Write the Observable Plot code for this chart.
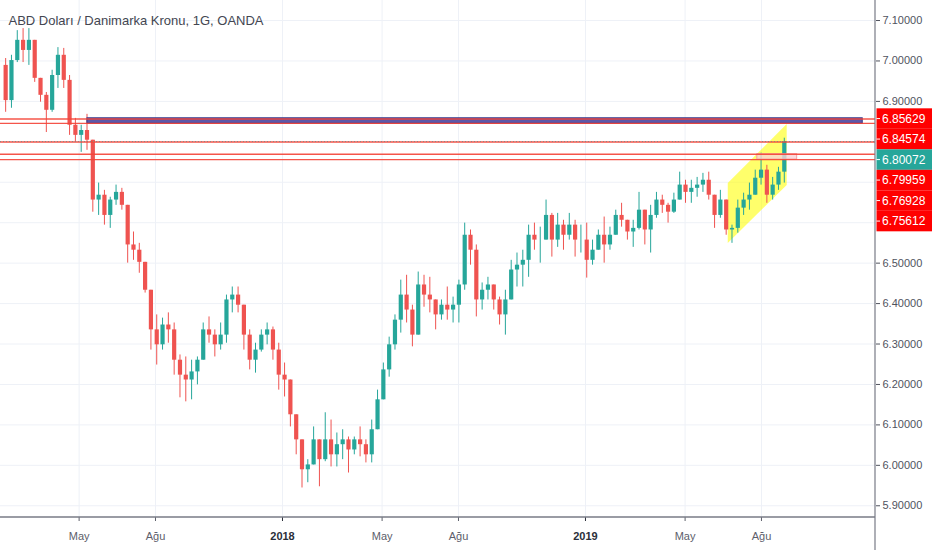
<!DOCTYPE html>
<html><head><meta charset="utf-8">
<script src="https://cdn.jsdelivr.net/npm/d3@7"></script>
<script src="https://cdn.jsdelivr.net/npm/@observablehq/plot@0.6"></script>
<style>body{margin:0;background:#fff;}</style>
</head><body><div id="chart"></div>
<script>
const titleText = "ABD Doları / Danimarka Kronu, 1G, OANDA";
const firstWeek = "2017-01-30";
const opens = [6.989,6.902,7.001,7.051,7.026,7.051,6.957,6.915,6.878,6.964,7.014,6.952,6.841,6.816,6.828,6.804,6.656,6.668,6.618,6.656,6.675,6.643,6.545,6.532,6.502,6.433,6.335,6.298,6.347,6.335,6.260,6.223,6.211,6.231,6.260,6.335,6.322,6.298,6.322,6.409,6.421,6.396,6.322,6.260,6.285,6.322,6.335,6.285,6.223,6.211,6.125,6.063,5.989,6.001,6.063,6.014,6.063,6.026,6.051,6.063,6.038,6.063,6.051,6.026,6.088,6.162,6.236,6.298,6.359,6.421,6.384,6.322,6.446,6.421,6.409,6.372,6.396,6.384,6.396,6.446,6.569,6.532,6.409,6.433,6.446,6.409,6.372,6.409,6.483,6.495,6.507,6.569,6.557,6.557,6.618,6.557,6.594,6.569,6.594,6.557,6.557,6.507,6.532,6.569,6.545,6.569,6.618,6.606,6.577,6.586,6.631,6.582,6.618,6.656,6.643,6.626,6.656,6.693,6.675,6.685,6.693,6.705,6.668,6.618,6.656,6.582,6.586,6.636,6.656,6.668,6.710,6.730,6.668,6.693,6.725];
const highs = [7.006,7.014,7.075,7.080,7.080,7.051,6.957,6.922,6.977,7.033,7.031,6.964,6.858,6.841,6.868,6.804,6.698,6.680,6.663,6.693,6.685,6.643,6.577,6.549,6.502,6.433,6.372,6.364,6.377,6.352,6.273,6.268,6.260,6.268,6.352,6.367,6.335,6.352,6.421,6.441,6.441,6.396,6.335,6.302,6.335,6.352,6.342,6.302,6.253,6.211,6.125,6.063,6.014,6.095,6.063,6.130,6.112,6.080,6.088,6.070,6.070,6.095,6.063,6.112,6.186,6.253,6.317,6.372,6.458,6.470,6.396,6.478,6.470,6.465,6.409,6.409,6.441,6.416,6.458,6.599,6.582,6.545,6.451,6.465,6.446,6.416,6.433,6.507,6.525,6.532,6.594,6.599,6.589,6.656,6.623,6.623,6.606,6.623,6.606,6.594,6.599,6.557,6.582,6.614,6.589,6.631,6.648,6.606,6.606,6.675,6.631,6.643,6.675,6.668,6.648,6.673,6.725,6.705,6.705,6.712,6.722,6.725,6.668,6.680,6.656,6.594,6.656,6.673,6.698,6.730,6.772,6.742,6.712,6.737,6.809];
const lows = [6.873,6.883,6.996,6.996,6.989,6.947,6.898,6.823,6.873,6.932,6.932,6.816,6.799,6.774,6.779,6.626,6.618,6.594,6.586,6.643,6.631,6.500,6.507,6.475,6.426,6.285,6.248,6.285,6.302,6.223,6.167,6.157,6.162,6.199,6.260,6.302,6.268,6.285,6.302,6.377,6.377,6.285,6.236,6.228,6.280,6.298,6.260,6.186,6.169,6.095,6.026,5.944,5.957,6.001,5.947,6.009,5.996,5.996,6.014,5.981,6.026,6.021,6.006,6.006,6.088,6.162,6.218,6.285,6.327,6.352,6.293,6.322,6.391,6.377,6.335,6.359,6.359,6.352,6.352,6.433,6.495,6.367,6.384,6.409,6.384,6.347,6.322,6.409,6.441,6.441,6.465,6.532,6.500,6.557,6.515,6.539,6.532,6.557,6.515,6.525,6.463,6.495,6.532,6.500,6.532,6.569,6.589,6.557,6.539,6.582,6.545,6.525,6.611,6.623,6.599,6.623,6.656,6.648,6.648,6.663,6.675,6.656,6.586,6.611,6.569,6.549,6.574,6.618,6.631,6.668,6.693,6.648,6.656,6.680,6.698];
const closes = [6.902,7.001,7.051,7.026,7.051,6.957,6.915,6.878,6.964,7.014,6.952,6.841,6.816,6.828,6.804,6.656,6.668,6.618,6.656,6.675,6.643,6.545,6.532,6.502,6.433,6.335,6.298,6.347,6.335,6.260,6.223,6.211,6.231,6.260,6.335,6.322,6.298,6.322,6.409,6.421,6.396,6.322,6.260,6.285,6.322,6.335,6.285,6.223,6.211,6.125,6.063,5.989,6.001,6.063,6.014,6.063,6.026,6.051,6.063,6.038,6.063,6.051,6.026,6.088,6.162,6.236,6.298,6.359,6.421,6.384,6.322,6.446,6.421,6.409,6.372,6.396,6.384,6.396,6.446,6.569,6.532,6.409,6.433,6.446,6.409,6.372,6.409,6.483,6.495,6.507,6.569,6.557,6.557,6.618,6.557,6.594,6.569,6.594,6.557,6.557,6.507,6.532,6.569,6.545,6.569,6.618,6.606,6.577,6.586,6.631,6.582,6.618,6.656,6.643,6.626,6.656,6.693,6.675,6.685,6.693,6.705,6.668,6.618,6.656,6.582,6.586,6.636,6.656,6.668,6.710,6.730,6.668,6.693,6.725,6.80072];

// axis ticks
const monthTicks = ["2017-05-01","2017-08-01","2018-05-01","2018-08-01","2019-05-01","2019-08-01"];
const monthLabels = ["May","Ağu","May","Ağu","May","Ağu"];
const yearTicks = ["2018-01-01","2019-01-01"];
const yearLabels = ["2018","2019"];
const priceGrid = [5.9,6.0,6.1,6.2,6.3,6.4,6.5,6.6,6.7,6.8,6.9,7.0,7.1];
const priceLabelTicks = [5.9,6.0,6.1,6.2,6.3,6.4,6.5,6.9,7.0,7.1];

// drawings
const hLines = [6.85629, 6.84574, 6.79959, 6.76928, 6.75612];
const lastPrice = 6.80072;
const tagPrices = [6.85629, 6.84574, 6.80072, 6.79959, 6.76928, 6.75612];
const tagKinds = ["line","line","last","line","line","line"];
const bandDates = ["2017-05-11","2019-12-01"];
const bandPrices = [6.8446, 6.8582];
const channelDates = ["2019-06-22","2019-09-01"];
const channelLower = [6.5486, 6.6920];
const channelUpper = [6.6970, 6.8429];
const boxDates = ["2019-07-27","2019-09-13"];
const boxPrices = [6.75612, 6.76928];

const UP = "#26a69a", DOWN = "#ef5350";
const start = new Date(firstWeek + "T00:00:00Z");
const candles = closes.map((c, i) => ({
  date: d3.utcHour.offset(d3.utcMonday.offset(start, i), 60),
  open: opens[i], high: highs[i], low: lows[i], close: c,
  color: c >= opens[i] ? UP : DOWN
}));
const P = d => new Date(d + "T00:00:00Z");
const monthMap = new Map(monthTicks.map((d, i) => [+P(d), monthLabels[i]]));
const yearMap = new Map(yearTicks.map((d, i) => [+P(d), yearLabels[i]]));

function chrome(index, scales, values, dim) {
  const g = d3.create("svg:g");
  const x0 = dim.width - dim.marginRight;
  const yb = dim.height - dim.marginBottom;
  g.append("line").attr("x1", 0).attr("x2", x0).attr("y1", yb).attr("y2", yb)
    .attr("stroke", "#787b86").attr("stroke-width", 1.5);
  g.append("line").attr("x1", x0).attr("x2", x0).attr("y1", 0).attr("y2", dim.height)
    .attr("stroke", "#787b86").attr("stroke-width", 1.2);
  const h = 20.5;
  let prev = -Infinity;
  tagPrices.forEach((v, i) => {
    const cy = Math.max(scales.y(v), prev + h);
    prev = cy;
    g.append("rect").attr("x", x0 + 1.5).attr("y", cy - h / 2).attr("width", dim.marginRight).attr("height", h)
      .attr("fill", tagKinds[i] === "last" ? UP : "#ff0000");
    g.append("line").attr("x1", x0 + 1.5).attr("x2", x0 + 5).attr("y1", cy).attr("y2", cy)
      .attr("stroke", "#fff");
    g.append("text").attr("x", x0 + 7).attr("y", cy).attr("dy", "0.36em")
      .attr("text-anchor", "start")
      .attr("fill", "#fff").attr("font-size", 12).attr("font-family", "Liberation Sans, Arial, sans-serif")
      .text(v.toFixed(5));
  });
  return g.node();
}

const chart = Plot.plot({
  width: 932, height: 550,
  marginLeft: 0, marginRight: 57, marginTop: 0, marginBottom: 33,
  style: {background: "#fff", fontFamily: "Liberation Sans, Arial, sans-serif", overflow: "visible"},
  x: {type: "utc", domain: [new Date("2017-01-26T07:00:00Z"), new Date("2019-12-16T09:00:00Z")], axis: null},
  y: {domain: [5.871, 7.1495], axis: null},
  marks: [
    Plot.gridX(monthTicks.concat(yearTicks).map(P), {stroke: "#eef1f7", strokeOpacity: 1}),
    Plot.gridY(priceGrid, {stroke: "#eef1f7", strokeOpacity: 1}),
    Plot.areaY(channelDates.map((d, i) => ({d: P(d), lo: channelLower[i], hi: channelUpper[i]})),
      {x: "d", y1: "lo", y2: "hi", fill: "#ffff00", fillOpacity: 0.58}),
    Plot.ruleX(candles, {x: "date", y1: "low", y2: "high", stroke: "color", strokeWidth: 1}),
    Plot.ruleX(candles, {x: "date", y1: "open", y2: "close", stroke: "color", strokeWidth: 4.2}),
    Plot.rect([0], {x1: P(bandDates[0]), x2: P(bandDates[1]), y1: bandPrices[0], y2: bandPrices[1],
      fill: "#5d58a8", stroke: "#33398a", strokeWidth: 1}),
    Plot.rect([0], {x1: P(boxDates[0]), x2: P(boxDates[1]), y1: boxPrices[0], y2: boxPrices[1],
      fill: "#f9d2d5", fillOpacity: 0.8, stroke: "#f4a0a6", strokeWidth: 1}),
    Plot.ruleY(hLines, {stroke: "#f44336", strokeWidth: 1.4, strokeOpacity: 0.9}),
    Plot.ruleY([lastPrice], {stroke: "#8d8585", strokeWidth: 1, strokeDasharray: "1,2"}),
    Plot.axisY(priceLabelTicks, {anchor: "right", tickFormat: d => d.toFixed(5), tickSize: 4, tickPadding: 3,
      fontSize: 11, color: "#50535e"}),
    Plot.axisX(monthTicks.map(P), {anchor: "bottom", tickFormat: d => monthMap.get(+d), tickSize: 4,
      tickPadding: 11, fontSize: 11, color: "#5d606b"}),
    Plot.axisX(yearTicks.map(P), {anchor: "bottom", tickFormat: d => yearMap.get(+d), tickSize: 4,
      tickPadding: 11, fontSize: 11, fontWeight: "bold", color: "#2a2e39"}),
    chrome,
    Plot.text([titleText], {frameAnchor: "top-left", dx: 8, dy: 20, text: d => d, textAnchor: "start",
      lineAnchor: "middle", fontSize: 13, fill: "#434651"})
  ]
});
document.getElementById("chart").appendChild(chart);
</script>
</body></html>
